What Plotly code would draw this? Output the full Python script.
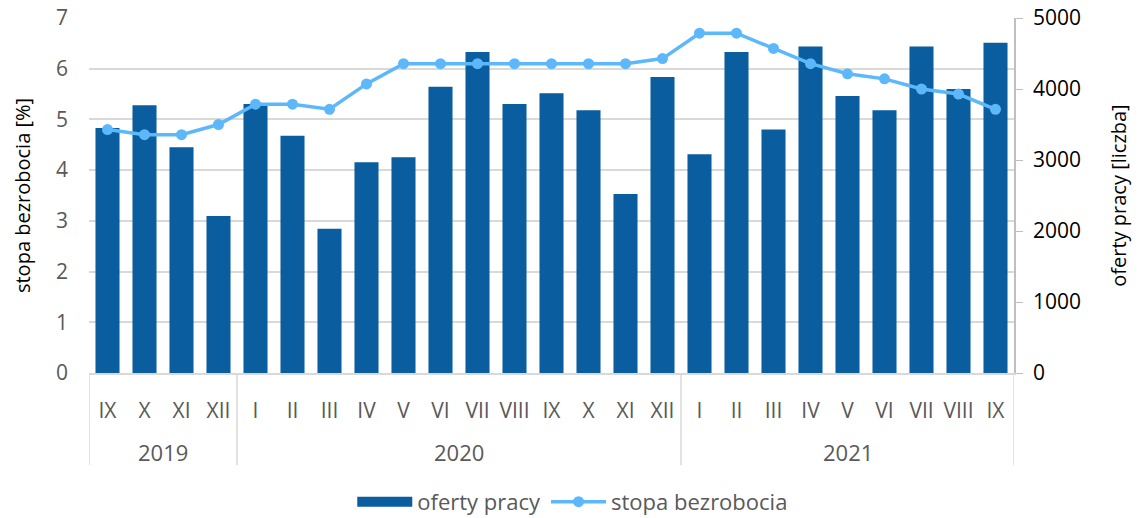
import plotly.graph_objects as go

years = ["2019"] * 4 + ["2020"] * 12 + ["2021"] * 9
months = ["IX", "X", "XI", "XII",
          "I", "II", "III", "IV", "V", "VI", "VII", "VIII", "IX", "X", "XI", "XII",
          "I", "II", "III", "IV", "V", "VI", "VII", "VIII", "IX"]
oferty_pracy = [3450, 3770, 3180, 2210,
                3790, 3340, 2030, 2970, 3040, 4030, 4520, 3790, 3940, 3700, 2520, 4170,
                3080, 4520, 3430, 4600, 3900, 3700, 4600, 4000, 4650]
stopa_bezrobocia = [4.8, 4.7, 4.7, 4.9,
                    5.3, 5.3, 5.2, 5.7, 6.1, 6.1, 6.1, 6.1, 6.1, 6.1, 6.1, 6.2,
                    6.7, 6.7, 6.4, 6.1, 5.9, 5.8, 5.6, 5.5, 5.2]

FONT = "Open Sans"
GREY = "#595959"
LINE = "#D9D9D9"
BAR = "#0A5D9E"
LIGHT = "#5CB8FA"
xs = list(range(len(months)))

fig = go.Figure()
fig.add_trace(go.Bar(
    x=xs, y=oferty_pracy, name="oferty pracy",
    marker=dict(color=BAR, line=dict(width=0)),
    yaxis="y", showlegend=False, legendgroup="of",
))
# legend entry drawn as a wide block like the reference
fig.add_trace(go.Scatter(
    x=[None], y=[None], name="oferty pracy", mode="lines",
    line=dict(color=BAR, width=14), yaxis="y", legendgroup="of",
))
fig.add_trace(go.Scatter(
    x=xs, y=stopa_bezrobocia, name="stopa bezrobocia",
    mode="lines+markers",
    line=dict(color=LIGHT, width=3.5),
    marker=dict(color=LIGHT, size=11),
    yaxis="y2",
))

# year groups: labels and dividers derived from the years list
groups = []
for i, y in enumerate(years):
    if not groups or groups[-1][0] != y:
        groups.append([y, i, i])
    else:
        groups[-1][2] = i
bounds = [groups[0][1] - 0.5] + [g[2] + 0.5 for g in groups]
for b in bounds:
    fig.add_shape(type="line", xref="x", yref="paper", x0=b, x1=b, y0=0, y1=-0.259,
                  line=dict(color=LINE, width=1.5))
for name, a, b in groups:
    fig.add_annotation(x=(a + b) / 2, y=-0.222, xref="x", yref="paper", text=name,
                       showarrow=False, yanchor="middle",
                       font=dict(family=FONT, size=22, color=GREY))

fig.update_layout(
    width=1139, height=518,
    margin=dict(l=89, r=125, t=18, b=145, autoexpand=False),
    paper_bgcolor="white", plot_bgcolor="white",
    bargap=0.35,
    font=dict(family=FONT, size=19, color=GREY),
    showlegend=True,
    legend=dict(orientation="h", x=0.523, xanchor="center", xref="paper",
                y=-0.363, yanchor="middle", yref="paper",
                font=dict(size=22, color=GREY), itemwidth=55),
    xaxis=dict(
        range=[-0.5, len(months) - 0.5], automargin=False,
        tickmode="array", tickvals=xs, ticktext=months,
        showline=True, linecolor=LINE, linewidth=1.5,
        ticks="", showgrid=False, zeroline=False,
        tickfont=dict(size=21, color=GREY),
        ticklabelstandoff=18,
    ),
    yaxis=dict(
        side="right", range=[0, 5000], dtick=1000, automargin=False,
        showgrid=False, zeroline=False,
        showline=True, linecolor="#BFBFBF", linewidth=1.5,
        ticks="outside", ticklen=7, tickcolor="#BFBFBF",
        tickfont=dict(size=21, color="#000000"),
        ticklabelstandoff=6,
        title=dict(text="oferty pracy [liczba]", font=dict(size=20, color="#000000"), standoff=32),
    ),
    yaxis2=dict(
        overlaying="y", side="left", range=[0, 7], dtick=1, automargin=False,
        showgrid=True, gridcolor=LINE, gridwidth=2, zeroline=False,
        tickfont=dict(size=21, color=GREY),
        ticklabelstandoff=20,
        title=dict(text="stopa bezrobocia [%]", font=dict(size=20, color="#000000"), standoff=19),
    ),
)

fig.write_html("out.html", config={"displayModeBar": False},
               post_script="document.body.style.margin='0';")
